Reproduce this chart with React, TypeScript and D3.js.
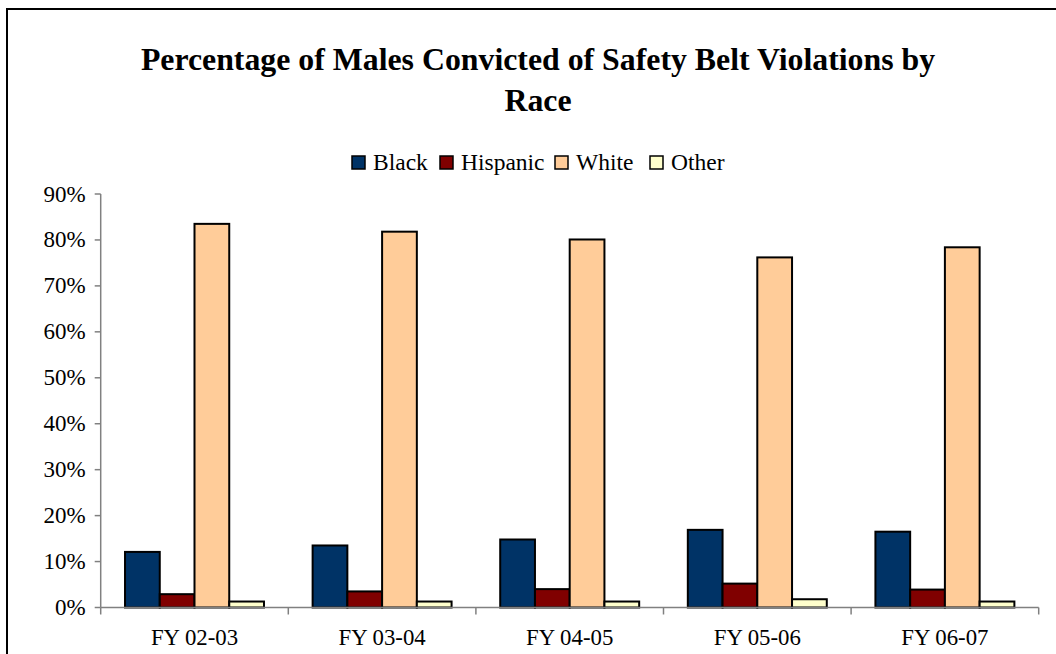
import React from "react";
import * as d3 from "d3";

const categories = ["FY 02-03", "FY 03-04", "FY 04-05", "FY 05-06", "FY 06-07"];
const seriesNames = ["Black", "Hispanic", "White", "Other"];
const seriesColors = ["#003366", "#800000", "#FFCC99", "#FFFFCC"];
const black = [12.1, 13.5, 14.8, 16.9, 16.5];
const hispanic = [2.9, 3.5, 4.0, 5.2, 3.9];
const white = [83.5, 81.8, 80.1, 76.2, 78.4];
const other = [1.3, 1.3, 1.3, 1.8, 1.3];
const yTicks = [0, 10, 20, 30, 40, 50, 60, 70, 80, 90];

const W = 1056;
const H = 654;
const plot = { left: 100.7, right: 1038.7, top: 194, bottom: 607.5 };
const FONT = "'Liberation Serif', 'Times New Roman', serif";

export default function App() {
  const values = [black, hispanic, white, other];
  const x0 = d3.scaleBand<string>().domain(categories).range([plot.left, plot.right]).paddingInner(0).paddingOuter(0);
  const band = x0.bandwidth();
  const barW = band / 5.4;
  const groupW = barW * 4;
  const y = d3.scaleLinear().domain([0, 90]).range([plot.bottom, plot.top]);

  const legendX = [352, 440, 555, 650];

  return (
    <svg width={W} height={H} style={{ position: "absolute", left: 0, top: 0, background: "#fff" }}>
      <rect x={0} y={0} width={W} height={H} fill="#fff" />
      {/* chart frame */}
      <rect x={7} y={9} width={W + 20} height={H + 20} fill="none" stroke="#000" strokeWidth={2} />

      <text x={538} y={70} textAnchor="middle" fontFamily={FONT} fontWeight="bold" fontSize={31.8}>
        Percentage of Males Convicted of Safety Belt Violations by
      </text>
      <text x={538} y={111} textAnchor="middle" fontFamily={FONT} fontWeight="bold" fontSize={31.8}>
        Race
      </text>

      {/* legend */}
      {seriesNames.map((name, i) => (
        <g key={name}>
          <rect x={legendX[i]} y={156} width={13} height={13} fill={seriesColors[i]} stroke="#000" strokeWidth={1.5} />
          <text x={legendX[i] + 21} y={170} fontFamily={FONT} fontSize={23.5}>
            {name}
          </text>
        </g>
      ))}

      {/* bars */}
      {categories.map((c, ci) => {
        const gx = (x0(c) as number) + (band - groupW) / 2;
        return (
          <g key={c}>
            {values.map((vals, si) => (
              <rect
                key={si}
                x={gx + si * barW}
                y={y(vals[ci])}
                width={barW}
                height={plot.bottom - y(vals[ci])}
                fill={seriesColors[si]}
                stroke="#000"
                strokeWidth={2}
              />
            ))}
          </g>
        );
      })}

      {/* y axis */}
      <line x1={plot.left} x2={plot.left} y1={plot.top} y2={plot.bottom} stroke="#808080" strokeWidth={1.5} />
      {yTicks.map((t) => (
        <g key={t}>
          <line x1={plot.left - 6} x2={plot.left} y1={y(t)} y2={y(t)} stroke="#808080" strokeWidth={1.5} />
          <text x={plot.left - 15} y={y(t) + 7.5} textAnchor="end" fontFamily={FONT} fontSize={23}>
            {t}%
          </text>
        </g>
      ))}

      {/* x axis */}
      <line x1={plot.left} x2={plot.right} y1={plot.bottom} y2={plot.bottom} stroke="#808080" strokeWidth={1.5} />
      {[...categories.map((c) => x0(c) as number), plot.right].map((tx, i) => (
        <line key={i} x1={tx} x2={tx} y1={plot.bottom} y2={plot.bottom + 7} stroke="#808080" strokeWidth={1.5} />
      ))}
      {categories.map((c) => (
        <text key={c} x={(x0(c) as number) + band / 2} y={645} textAnchor="middle" fontFamily={FONT} fontSize={22.8}>
          {c}
        </text>
      ))}
    </svg>
  );
}
